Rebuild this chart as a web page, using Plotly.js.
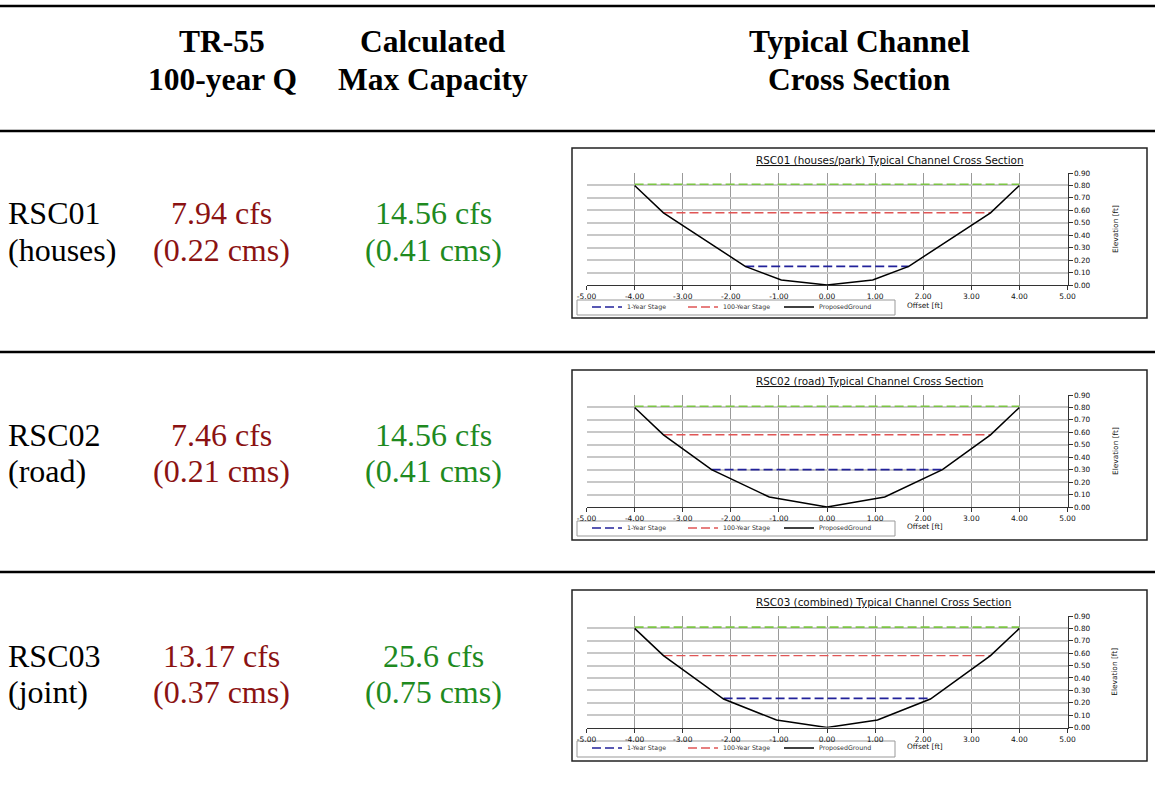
<!DOCTYPE html>
<html>
<head>
<meta charset="utf-8">
<script src="https://cdn.plot.ly/plotly-3.0.1.min.js"></script>
<style>
html,body{margin:0;padding:0;background:#fff;}
#chart{width:1155px;height:791px;}
</style>
</head>
<body>
<div id="chart"></div>
<script>
// ---------- DATA ----------
const headerTR55 = ['TR-55', '100-year Q'];
const headerCapacity = ['Calculated', 'Max Capacity'];
const headerSection = ['Typical Channel', 'Cross Section'];

const categories = ['RSC01', 'RSC02', 'RSC03'];
const locations = ['(houses)', '(road)', '(joint)'];
const tr55Cfs = [7.94, 7.46, 13.17];
const tr55Cms = [0.22, 0.21, 0.37];
const capacityCfs = [14.56, 14.56, 25.6];
const capacityCms = [0.41, 0.41, 0.75];

const chartTitles = [
  'RSC01 (houses/park) Typical Channel Cross Section',
  'RSC02 (road) Typical Channel Cross Section',
  'RSC03 (combined) Typical Channel Cross Section'
];
const seriesNames = ['1-Year Stage', '100-Year Stage', 'ProposedGround'];

const xTickVals = [-5, -4, -3, -2, -1, 0, 1, 2, 3, 4, 5];
const xTickLabels = ['-5.00', '-4.00', '-3.00', '-2.00', '-1.00', '0.00', '1.00', '2.00', '3.00', '4.00', '5.00'];

const groundOffset1 = [-4.00, -3.40, -1.70, -0.95, 0.00, 0.95, 1.70, 3.40, 4.00];
const groundElev1   = [0.80, 0.58, 0.15, 0.04, 0.00, 0.04, 0.15, 0.58, 0.80];
const groundOffset2 = [-4.00, -3.40, -2.40, -1.20, 0.00, 1.20, 2.40, 3.40, 4.00];
const groundElev2   = [0.80, 0.58, 0.30, 0.08, 0.00, 0.08, 0.30, 0.58, 0.80];
const groundOffset3 = [-4.00, -3.40, -2.15, -1.05, 0.00, 1.05, 2.15, 3.40, 4.00];
const groundElev3   = [0.80, 0.58, 0.23, 0.06, 0.00, 0.06, 0.23, 0.58, 0.80];

const oneYearOffsets = [[-1.70, 1.70], [-2.40, 2.40], [-2.15, 2.15]];
const oneYearStage = [0.15, 0.30, 0.235];
const hundredYearOffsets = [[-3.40, 3.40], [-3.40, 3.40], [-3.40, 3.40]];
const hundredYearStage = [0.58, 0.58, 0.58];
const bankOffsets = [[-4.00, 4.00], [-4.00, 4.00], [-4.00, 4.00]];
const bankStage = [0.81, 0.81, 0.81];

const groundOffsets = [groundOffset1, groundOffset2, groundOffset3];
const groundElevs = [groundElev1, groundElev2, groundElev3];

// ---------- LAYOUT HELPERS ----------
const W = 1155, H = 791;
const px = x => x / W;
const py = y => 1 - y / H;

const serif = 'Liberation Serif, Times New Roman, serif';
const sans = 'DejaVu Sans, Verdana, sans-serif';
const darkRed = '#8b1212';
const green = '#1f8a1f';

// per-chart pixel geometry
const charts = [
  {frameTop: 148, frameBot: 318, y0: 285, y9: 173, titleY: 160, legendY: 307, legTop: 300, legBot: 315},
  {frameTop: 370, frameBot: 540, y0: 507, y9: 395, titleY: 381, legendY: 528, legTop: 521, legBot: 536},
  {frameTop: 590, frameBot: 761, y0: 727.5, y9: 616, titleY: 602, legendY: 748, legTop: 741, legBot: 757}
];
const rows = [{l1: 213, l2: 250}, {l1: 435, l2: 471}, {l1: 656, l2: 692}];

const traces = [];
const layout = {
  width: W, height: H,
  margin: {l: 0, r: 0, t: 0, b: 0},
  paper_bgcolor: '#fff', plot_bgcolor: '#fff',
  showlegend: true,
  annotations: [], shapes: []
};

charts.forEach((c, i) => {
  const n = i === 0 ? '' : String(i + 1);
  const xa = 'x' + n, ya = 'y' + n;
  const leg = 'legend' + n;
  traces.push({
    x: bankOffsets[i], y: [bankStage[i], bankStage[i]], xaxis: xa, yaxis: ya,
    mode: 'lines', line: {color: '#7cc544', width: 1.6, dash: '9px,4px'},
    showlegend: false, hoverinfo: 'skip'
  });
  traces.push({
    x: oneYearOffsets[i], y: [oneYearStage[i], oneYearStage[i]], xaxis: xa, yaxis: ya,
    mode: 'lines', name: seriesNames[0], legend: leg,
    line: {color: '#22229a', width: 1.6, dash: '9px,4px'}
  });
  traces.push({
    x: hundredYearOffsets[i], y: [hundredYearStage[i], hundredYearStage[i]], xaxis: xa, yaxis: ya,
    mode: 'lines', name: seriesNames[1], legend: leg,
    line: {color: '#e05555', width: 1.4, dash: '9px,4px'}
  });
  traces.push({
    x: groundOffsets[i], y: groundElevs[i], xaxis: xa, yaxis: ya,
    mode: 'lines', name: seriesNames[2], legend: leg,
    line: {color: '#000', width: 1.5}
  });

  layout['xaxis' + n] = {
    domain: [px(586.5), px(1067.5)], anchor: ya, range: [-5, 5],
    tickmode: 'array', tickvals: xTickVals, ticktext: xTickLabels,
    showgrid: true, gridcolor: '#9a9a9a', gridwidth: 1,
    zeroline: false, showline: true, linecolor: '#333', linewidth: 1,
    ticks: 'outside', ticklen: 4, tickcolor: '#333',
    tickfont: {family: sans, size: 7.5, color: '#111'}, fixedrange: true
  };
  layout['yaxis' + n] = {
    domain: [py(c.y0), py(c.y9)], anchor: xa, side: 'right', range: [0, 0.9], dtick: 0.1, tick0: 0,
    tickformat: '.2f', showgrid: true, gridcolor: '#c8c8c8', gridwidth: 2,
    zeroline: false, showline: true, linecolor: '#333', linewidth: 1,
    ticks: 'outside', ticklen: 4, tickcolor: '#333',
    tickfont: {family: sans, size: 7.3, color: '#111'}, fixedrange: true
  };
  layout[leg] = {
    orientation: 'h', x: px(587), y: py(c.legendY), xanchor: 'left', yanchor: 'middle',
    bgcolor: 'rgba(0,0,0,0)', borderwidth: 0, entrywidth: 51, entrywidthmode: 'pixels',
    font: {family: sans, size: 6.3, color: '#333'}, itemclick: false, itemdoubleclick: false,
    tracegroupgap: 0
  };
  // frame and legend box
  layout.shapes.push({type: 'rect', xref: 'paper', yref: 'paper', x0: px(572), x1: px(1147),
    y0: py(c.frameBot), y1: py(c.frameTop), line: {color: '#222', width: 1.5}, layer: 'below'});
  layout.shapes.push({type: 'rect', xref: 'paper', yref: 'paper', x0: px(577), x1: px(895),
    y0: py(c.legBot), y1: py(c.legTop), line: {color: '#999', width: 1}, layer: 'below'});
  // chart title & axis titles
  layout.annotations.push({xref: 'paper', yref: 'paper', x: px(754), y: py(c.titleY), xanchor: 'left', yanchor: 'middle',
    text: '<u>' + chartTitles[i] + '</u>', showarrow: false, font: {family: sans, size: 10.4, color: '#111'}});
  layout.annotations.push({xref: 'paper', yref: 'paper', x: px(925), y: py(c.legendY - 2), xanchor: 'center', yanchor: 'middle',
    text: 'Offset [ft]', showarrow: false, font: {family: sans, size: 7.4, color: '#111'}});
  layout.annotations.push({xref: 'paper', yref: 'paper', x: px(1115), y: py((c.y0 + c.y9) / 2), xanchor: 'center', yanchor: 'middle',
    text: 'Elevation [ft]', textangle: -90, showarrow: false, font: {family: sans, size: 7.4, color: '#111'}});
});

// table rules
[6, 131, 352, 572].forEach(y => {
  layout.shapes.push({type: 'line', xref: 'paper', yref: 'paper', x0: 0, x1: 1, y0: py(y), y1: py(y),
    line: {color: '#000', width: 2.5}});
});

// text helper
function addText(text, x, y, anchor, color, size) {
  layout.annotations.push({xref: 'paper', yref: 'paper', x: px(x), y: py(y), xanchor: anchor, yanchor: 'middle',
    text: text, showarrow: false, font: {family: serif, size: size, color: color}});
}
[[headerTR55, 222], [headerCapacity, 433], [headerSection, 859]].forEach(([lines, x]) => {
  addText('<b>' + lines[0] + '</b>', x, 42, 'center', '#000', 31.5);
  addText('<b>' + lines[1] + '</b>', x, 79, 'center', '#000', 31.5);
});

// rows
categories.forEach((cat, i) => {
  const r = rows[i];
  addText(cat, 6, r.l1, 'left', '#000', 32);
  addText(locations[i], 6, r.l2, 'left', '#000', 32);
  addText(String(tr55Cfs[i]) + ' cfs', 221, r.l1, 'center', darkRed, 32);
  addText('(' + String(tr55Cms[i]) + ' cms)', 221, r.l2, 'center', darkRed, 32);
  addText(String(capacityCfs[i]) + ' cfs', 433, r.l1, 'center', green, 32);
  addText('(' + String(capacityCms[i]) + ' cms)', 433, r.l2, 'center', green, 32);
});

Plotly.newPlot('chart', traces, layout, {displayModeBar: false, staticPlot: true});
</script>
</body>
</html>
